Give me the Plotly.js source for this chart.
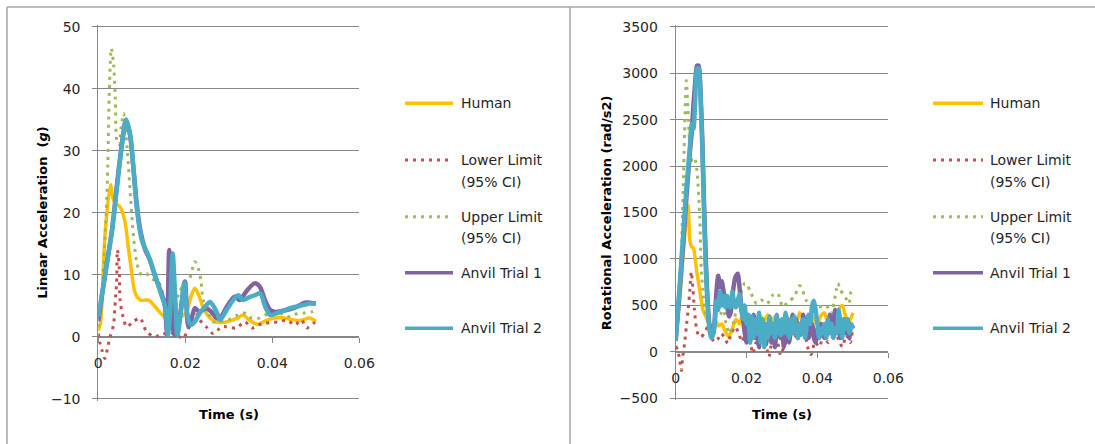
<!DOCTYPE html>
<html>
<head>
<meta charset="utf-8">
<script src="https://cdn.plot.ly/plotly-3.0.1.min.js"></script>
<style>html,body{margin:0;padding:0;background:#fff;}#chart{width:1095px;height:444px;}</style>
</head>
<body>
<div id="chart"></div>
<script>
// ---------- Labels ----------
var seriesNames = ["Human", "Lower Limit", "Upper Limit", "Anvil Trial 1", "Anvil Trial 2"];
var legendSecondLine = ["", "(95% CI)", "(95% CI)", "", ""];
var xTitle = "Time (s)";
var yTitleLeft = "Linear Acceleration  (<i>g</i>)";
var yTitleRight = "Rotational Acceleration (rad/s2)";

// ---------- Left chart: linear acceleration (g) ----------
var linHumanT = [0,0.0005,0.0016,0.0028,0.0033,0.0039,0.0049,0.0054,0.0062,0.0068,0.0074,0.0085,0.0097,0.0116,0.0131,0.0143,0.0155,0.0168,0.018,0.019,0.0203,0.0213,0.0222,0.0232,0.0242,0.0257,0.027,0.0287,0.0305,0.032,0.0333,0.0345,0.0358,0.0368,0.0385,0.0405,0.042,0.0441,0.0464,0.0485,0.050];
var linHuman  = [1.0,2.2,17,24.5,22.5,21.5,21.0,20.4,18.3,15,11.8,7.0,5.9,5.9,4.8,3.8,3.0,2.7,3.0,3.2,4.0,6.5,7.8,6.5,4.5,3.0,2.4,2.3,2.6,3.0,3.5,2.8,2.2,2.0,2.6,3.0,3.1,2.8,2.6,3.0,2.5];

var linLowerT = [0,0.0004,0.0009,0.0015,0.0022,0.0027,0.0035,0.0038,0.0042,0.0044,0.0048,0.005,0.0057,0.0065,0.008,0.0096,0.0111,0.013,0.0149,0.016,0.017,0.018,0.0186,0.0195,0.0202,0.0214,0.0222,0.0232,0.0248,0.0264,0.0275,0.0283,0.0295,0.0317,0.0337,0.0353,0.0368,0.0383,0.040,0.0418,0.0433,0.0452,0.0467,0.0479,0.0494,0.050];
var linLower  = [0.5,-1.1,-2.3,-3.5,-1.6,0,1.9,4.8,8.6,14.0,11.3,5.9,3.2,1.6,2.4,3.0,0.8,0,0.5,0.3,0.5,0.2,0,-0.3,0.5,2.5,4.3,2.8,1.6,0.5,1.1,1.6,1.6,1.4,2.4,1.4,1.9,2.2,2.3,2.4,2.7,1.9,2.7,1.4,2.2,2.2];

var linUpperT = [0,0.0007,0.0012,0.0018,0.0022,0.0025,0.003,0.0035,0.0039,0.0043,0.0048,0.0053,0.0058,0.0066,0.0074,0.0081,0.0089,0.0099,0.011,0.012,0.0131,0.014,0.0146,0.0155,0.0165,0.0175,0.0185,0.0199,0.021,0.0222,0.023,0.0236,0.0241,0.0253,0.0264,0.0278,0.0298,0.032,0.0337,0.0352,0.037,0.0383,0.040,0.0418,0.0435,0.045,0.0471,0.049,0.050];
var linUpper  = [1.5,4.8,11.8,19.4,28,38.7,46.5,44,38.7,31.5,31,34,36,30.6,22.6,16.1,11.8,10.0,10.2,9.5,9.0,8.6,7.5,5.5,4.0,4.5,7.0,8.6,9.4,12.1,11.0,9.0,5.9,3.8,2.4,2.5,2.7,3.5,3.8,3.0,3.0,3.5,3.5,3.8,3.2,3.6,3.8,4.0,4.3];

var linAnvil1T = [0,0.0005,0.002,0.0032,0.0043,0.0055,0.0064,0.0073,0.0081,0.0089,0.0097,0.0108,0.0118,0.0131,0.0146,0.0153,0.0158,0.0163,0.0168,0.0174,0.018,0.0188,0.0199,0.0207,0.0212,0.0222,0.0233,0.0248,0.026,0.0272,0.0283,0.0295,0.0314,0.0325,0.034,0.0359,0.0371,0.0383,0.0395,0.0406,0.0433,0.0456,0.0475,0.050];
var linAnvil1  = [2.5,5,12,17.5,24.5,31.5,35,32.5,27,21,17,14,12.5,9.7,6.8,5.0,0.5,14.0,7,0.5,0.2,3.5,8.9,1.6,2.2,4.6,4.0,4.6,4.0,3.0,3.3,4.8,6.5,5.9,7.3,8.6,8.1,5.9,4.3,4.0,4.3,4.8,5.5,5.3];

var linAnvil2T = [0,0.002,0.0032,0.0043,0.0055,0.0064,0.0074,0.0081,0.0089,0.010,0.0116,0.0131,0.0146,0.0154,0.016,0.0165,0.0171,0.0177,0.0182,0.019,0.0198,0.0205,0.0212,0.0222,0.0233,0.0245,0.0257,0.0272,0.028,0.0295,0.031,0.0322,0.0333,0.0345,0.036,0.0372,0.0384,0.0395,0.0418,0.0441,0.0464,0.0491,0.050];
var linAnvil2  = [3.2,11.9,17.2,24.2,31.2,35.0,32.3,26.9,20.4,15.6,12.9,9.7,6.5,4.8,0.3,4,13.4,6,0.3,4,8.8,3.5,1.9,2.4,3.8,4.8,5.6,4.0,2.7,4.3,5.9,6.7,5.9,6.3,6.7,7.0,4.8,3.5,4.0,4.6,5.0,5.4,5.4];

// ---------- Right chart: rotational acceleration (rad/s2) ----------
var rotHumanT = [0,0.001,0.002,0.003,0.0035,0.004,0.0045,0.005,0.0055,0.006,0.0068,0.0077,0.0085,0.0095,0.0105,0.0115,0.012,0.013,0.014,0.015,0.016,0.017,0.018,0.019,0.020,0.021,0.022,0.023,0.024,0.025,0.026,0.027,0.028,0.029,0.030,0.031,0.032,0.033,0.034,0.035,0.036,0.037,0.038,0.039,0.040,0.041,0.042,0.043,0.044,0.045,0.046,0.047,0.048,0.049,0.050];
var rotHuman  = [150,500,1000,1450,1580,1200,1130,1120,1000,850,660,450,380,300,250,320,280,300,220,160,250,350,300,420,380,300,350,280,380,330,400,300,380,340,300,400,330,380,300,420,360,300,410,350,300,390,420,300,350,380,460,500,380,330,420];

var rotLowerT = [0,0.0005,0.001,0.0016,0.002,0.0025,0.003,0.0035,0.004,0.0044,0.0049,0.0053,0.0058,0.0064,0.0072,0.008,0.0091,0.0098,0.0109,0.0118,0.0128,0.0137,0.0147,0.0155,0.0168,0.0178,0.0187,0.020,0.0209,0.0218,0.0227,0.0245,0.0256,0.0263,0.0272,0.0285,0.0296,0.0309,0.032,0.033,0.0346,0.0363,0.0372,0.0382,0.0393,0.0405,0.0418,0.043,0.044,0.0452,0.0461,0.0471,0.0481,0.0493,0.050];
var rotLower  = [60,20,-54,-200,-50,90,269,449,665,862,665,449,269,180,160,198,269,180,108,130,198,160,90,180,269,198,108,252,126,-18,100,160,54,-54,100,130,-36,90,130,200,144,234,54,-30,108,54,180,100,144,234,108,54,180,100,288];

var rotUpperT = [0,0.0008,0.0016,0.0021,0.0025,0.003,0.0036,0.0042,0.0048,0.0054,0.006,0.0068,0.0072,0.0078,0.0082,0.009,0.0098,0.011,0.0125,0.0135,0.0142,0.0152,0.0162,0.0175,0.0194,0.0199,0.0209,0.0228,0.0242,0.0258,0.0274,0.0288,0.0302,0.0318,0.0335,0.0348,0.0354,0.0368,0.038,0.0405,0.0425,0.0439,0.0453,0.0458,0.0465,0.0478,0.0489,0.0495,0.050];
var rotUpper  = [150,500,1095,1740,2350,2920,2500,2100,2050,2080,1950,1450,900,600,450,341,330,350,400,450,306,198,300,521,737,737,665,521,557,520,611,629,485,540,593,710,700,557,520,485,500,413,665,737,665,593,521,650,600];

var rotAnvil1T = [0,0.001,0.002,0.003,0.004,0.0045,0.005,0.0055,0.006,0.0065,0.007,0.0075,0.008,0.0085,0.009,0.0095,0.0102,0.0108,0.0115,0.012,0.0125,0.013,0.0135,0.014,0.0145,0.015,0.0155,0.016,0.0168,0.0175,0.018,0.0185,0.019,0.0195,0.020,0.0205,0.021,0.0215,0.022,0.0225,0.023,0.0235,0.024,0.0245,0.025,0.0255,0.026,0.0265,0.027,0.0275,0.028,0.0285,0.029,0.0295,0.030,0.0305,0.031,0.0315,0.032,0.0325,0.033,0.0335,0.034,0.0345,0.035,0.0355,0.036,0.0365,0.037,0.0375,0.038,0.0385,0.039,0.0395,0.040,0.0405,0.041,0.0415,0.042,0.0425,0.043,0.0435,0.044,0.0445,0.045,0.0455,0.046,0.0465,0.047,0.0475,0.048,0.0485,0.049,0.0495,0.050];
var rotAnvil1  = [120,600,1100,1650,2150,2350,2650,2900,3080,3080,2800,2300,1600,1000,550,300,150,250,650,820,700,760,650,520,500,380,420,600,800,840,700,500,350,200,100,300,150,250,400,150,300,50,350,150,300,80,250,350,100,300,50,250,330,150,300,50,200,350,100,250,400,200,350,150,300,250,400,200,300,150,250,300,150,100,250,150,300,200,150,300,200,400,200,300,450,250,300,150,250,350,200,250,150,300,250];

var rotAnvil2T = [0,0.001,0.002,0.003,0.004,0.0045,0.005,0.0055,0.006,0.0065,0.007,0.0075,0.008,0.0085,0.009,0.0095,0.010,0.0105,0.011,0.0115,0.012,0.0125,0.013,0.0135,0.014,0.0145,0.015,0.0155,0.016,0.0165,0.017,0.0175,0.018,0.0185,0.019,0.0195,0.020,0.0205,0.021,0.0215,0.022,0.0225,0.023,0.0235,0.024,0.0245,0.025,0.0255,0.026,0.0265,0.027,0.0275,0.028,0.0285,0.029,0.0295,0.030,0.0305,0.031,0.0315,0.032,0.0325,0.033,0.0335,0.034,0.0345,0.035,0.0355,0.036,0.0365,0.037,0.0375,0.038,0.0385,0.039,0.0395,0.040,0.0405,0.041,0.0415,0.042,0.0425,0.043,0.0435,0.044,0.0445,0.045,0.0455,0.046,0.0465,0.047,0.0475,0.048,0.0485,0.049,0.0495,0.050];
var rotAnvil2  = [120,650,1200,1750,2200,2450,2400,2700,3050,3050,2750,2200,1500,900,500,250,150,180,300,550,450,650,500,600,480,600,500,480,650,520,480,550,620,450,350,500,300,400,100,380,150,350,200,420,100,350,50,300,150,380,200,300,150,400,250,180,350,200,420,250,150,350,200,380,250,150,300,200,350,150,300,400,300,500,550,450,300,150,250,200,300,150,350,200,300,150,250,200,450,300,150,350,250,350,200,300,250];

// ---------- Style ----------
var colors = ["#FFC000", "#C0504D", "#9BBB59", "#8064A2", "#4BACC6"];
var W = 1095, H = 444;
var FONT = "DejaVu Sans, sans-serif";
var GRID = "#878787";
function px(x){ return x / W; }
function py(y){ return 1 - y / H; }

function mkTraces(xa, ya, sets, smooth){
  var styles = [
    {width: 3.5, dash: "solid"},
    {width: 3, dash: "3px,5px"},
    {width: 3, dash: "3px,5px"},
    {width: 4.5, dash: "solid"},
    {width: 4.5, dash: "solid"}
  ];
  return sets.map(function(s, i){
    return {
      x: s[0], y: s[1], type: "scatter", mode: "lines",
      name: seriesNames[i], xaxis: xa, yaxis: ya, showlegend: false,
      hoverinfo: "skip",
      line: {color: colors[i], width: styles[i].width, dash: styles[i].dash, shape: "spline", smoothing: smooth}
    };
  });
}

var traces = [].concat(
  mkTraces("x", "y", [[linHumanT, linHuman], [linLowerT, linLower], [linUpperT, linUpper], [linAnvil1T, linAnvil1], [linAnvil2T, linAnvil2]], 0.8),
  mkTraces("x2", "y2", [[rotHumanT, rotHuman], [rotLowerT, rotLower], [rotUpperT, rotUpper], [rotAnvil1T, rotAnvil1], [rotAnvil2T, rotAnvil2]], 0.6)
);

var tickFont = {family: FONT, size: 14, color: "#262626"};

function xAxis(d0, d1, pos){
  return {
    domain: [px(d0), px(d1)], range: [0, 0.06], dtick: 0.02, tick0: 0,
    anchor: "free", position: pos,
    showline: true, linecolor: GRID, linewidth: 1,
    ticks: "outside", ticklen: 5, tickcolor: GRID, tickwidth: 1,
    showgrid: false, zeroline: false, tickfont: tickFont, ticklabelstandoff: 8,
    fixedrange: true
  };
}
// pad: extra pixels above/below the outer gridlines so they are drawn
function yAxis(top, bottom, lo, hi, dt, xa){
  var pad = 2;
  var upp = (hi - lo) / (bottom - top);
  return {
    domain: [py(bottom + pad), py(top - pad)], range: [lo - pad * upp, hi + pad * upp], dtick: dt, tick0: 0, anchor: xa,
    showline: true, linecolor: GRID, linewidth: 1,
    ticks: "outside", ticklen: 5, tickcolor: GRID,
    showgrid: true, gridcolor: GRID, gridwidth: 1, zeroline: false,
    tickfont: tickFont, ticklabelstandoff: 9, fixedrange: true
  };
}

var shapes = [
  // chart area borders
  {type: "line", xref: "paper", yref: "paper", x0: px(7), x1: 1, y0: py(7), y1: py(7), line: {color: "#a6a6a6", width: 1.5}},
  {type: "line", xref: "paper", yref: "paper", x0: px(7), x1: px(7), y0: py(7), y1: 0, line: {color: "#a6a6a6", width: 1.5}},
  {type: "line", xref: "paper", yref: "paper", x0: px(570), x1: px(570), y0: py(7), y1: 0, line: {color: "#a6a6a6", width: 1.5}}
];
var annotations = [];

var legendRows = [103.3, 160, 216.7, 272.7, 328.3];
var legendLineW = [3.5, 3, 3, 3.5, 3.5];
var legendDash = ["solid", "3px,5px", "3px,5px", "solid", "solid"];
[[405, 453, 459], [933, 983, 988]].forEach(function(L){
  legendRows.forEach(function(yy, i){
    shapes.push({type: "line", xref: "paper", yref: "paper", x0: px(L[0]), x1: px(L[1]), y0: py(yy), y1: py(yy),
      line: {color: colors[i], width: legendLineW[i], dash: legendDash[i]}});
    annotations.push({xref: "paper", yref: "paper", x: px(L[2]), y: py(yy), xanchor: "left", yanchor: "middle",
      text: seriesNames[i], showarrow: false, font: {family: FONT, size: 14, color: "#262626"}});
    if (legendSecondLine[i]) {
      annotations.push({xref: "paper", yref: "paper", x: px(L[2]), y: py(yy + 21.7), xanchor: "left", yanchor: "middle",
        text: legendSecondLine[i], showarrow: false, font: {family: FONT, size: 14, color: "#262626"}});
    }
  });
});

var titleFont = {family: FONT, size: 13, color: "#000"};
annotations.push({xref: "paper", yref: "paper", x: px(228.8), y: py(414), text: "<b>" + xTitle + "</b>", showarrow: false, font: titleFont, xanchor: "center", yanchor: "middle"});
annotations.push({xref: "paper", yref: "paper", x: px(782), y: py(414), text: "<b>" + xTitle + "</b>", showarrow: false, font: titleFont, xanchor: "center", yanchor: "middle"});
annotations.push({xref: "paper", yref: "paper", x: px(43), y: py(212.7), text: "<b>" + yTitleLeft + "</b>", textangle: -90, showarrow: false, font: titleFont, xanchor: "center", yanchor: "middle"});
annotations.push({xref: "paper", yref: "paper", x: px(606.7), y: py(212.5), text: "<b>" + yTitleRight + "</b>", textangle: -90, showarrow: false, font: titleFont, xanchor: "center", yanchor: "middle"});

var layout = {
  width: W, height: H,
  margin: {l: 0, r: 0, t: 0, b: 0},
  paper_bgcolor: "#fff", plot_bgcolor: "#fff",
  showlegend: false,
  xaxis: xAxis(98.3, 359.3, py(336.7)),
  yaxis: yAxis(26.7, 398.7, -10, 50, 10, "x"),
  xaxis2: xAxis(675.7, 888.3, py(351.7)),
  yaxis2: yAxis(26.7, 398.3, -500, 3500, 500, "x2"),
  shapes: shapes,
  annotations: annotations
};

Plotly.newPlot("chart", traces, layout, {displayModeBar: false, staticPlot: true});
</script>
</body>
</html>
